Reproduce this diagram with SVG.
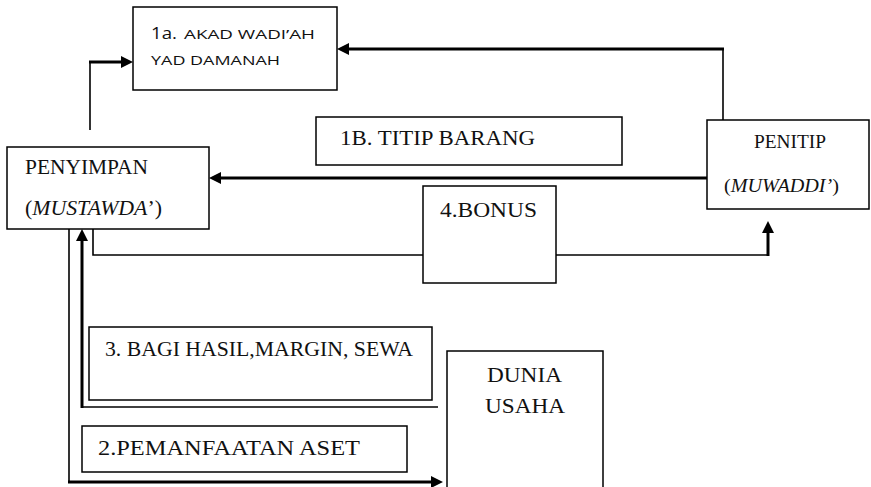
<svg xmlns="http://www.w3.org/2000/svg" width="871" height="487" viewBox="0 0 871 487">
<style>
.box{fill:#fff;stroke:#000;stroke-width:1.5}
.thin{fill:none;stroke:#000;stroke-width:1.6}
.thick{fill:none;stroke:#000;stroke-width:3}
.tr{font-family:"Liberation Serif","Times New Roman",serif;fill:#111}
.sa{font-family:"Open Sans","Liberation Sans",sans-serif;fill:#111}
</style>
<defs>
<marker id="ah" markerUnits="userSpaceOnUse" markerWidth="12" markerHeight="12" refX="6" refY="6" orient="auto">
<path d="M0,0 L12,6 L0,12 z" fill="#000"/>
</marker>
</defs>
<rect width="871" height="487" fill="#fff"/>
<g id="connectors">
<path class="thin" d="M723,120 V49"/>
<path class="thick" d="M724,49 H343" marker-end="url(#ah)"/>
<path class="thin" d="M90,130 V62"/>
<path class="thick" d="M89,62 H127" marker-end="url(#ah)"/>
<path class="thick" d="M707,178 H215" marker-end="url(#ah)"/>
<path class="thin" d="M93,229 V255 H423"/>
<path class="thin" d="M556,255 H768"/>
<path class="thick" d="M768,256 V227" marker-end="url(#ah)"/>
<path class="thin" d="M69,229 V482"/>
<path class="thick" d="M68,482 H437" marker-end="url(#ah)"/>
<path class="thin" d="M438,407 H81"/>
<path class="thick" d="M82,408 V235" marker-end="url(#ah)"/>
</g>
<g id="akad">
<rect class="box" x="133" y="7" width="204" height="83"/>
<text class="sa" x="151" y="39" font-size="17" textLength="26" lengthAdjust="spacingAndGlyphs">1a.</text>
<text class="sa" x="184" y="39" font-size="12" textLength="131" lengthAdjust="spacingAndGlyphs">AKAD WADI’AH</text>
<text class="sa" x="151" y="65" font-size="12" textLength="129" lengthAdjust="spacingAndGlyphs">YAD DAMANAH</text>
</g>
<g id="titip">
<rect class="box" x="316" y="117" width="306" height="48"/>
<text class="tr" x="340" y="145" font-size="22" textLength="195" lengthAdjust="spacingAndGlyphs">1B. TITIP BARANG</text>
</g>
<g id="penyimpan">
<rect class="box" x="7" y="147" width="202" height="82"/>
<text class="tr" x="25" y="174" font-size="20" textLength="123" lengthAdjust="spacingAndGlyphs">PENYIMPAN</text>
<text class="tr" x="25" y="215" font-size="20" textLength="137" lengthAdjust="spacingAndGlyphs">(<tspan font-style="italic">MUSTAWDA</tspan>’)</text>
</g>
<g id="penitip">
<rect class="box" x="707" y="120" width="162" height="89"/>
<text class="tr" x="754" y="148" font-size="19.5" textLength="72" lengthAdjust="spacingAndGlyphs">PENITIP</text>
<text class="tr" x="724" y="192" font-size="19.5" textLength="115" lengthAdjust="spacingAndGlyphs">(<tspan font-style="italic">MUWADDI’</tspan>)</text>
</g>
<g id="bonus">
<rect class="box" x="423" y="186" width="133" height="97"/>
<text class="tr" x="440" y="217" font-size="22" textLength="97" lengthAdjust="spacingAndGlyphs">4.BONUS</text>
</g>
<g id="bagihasil">
<rect class="box" x="89" y="327" width="343" height="73"/>
<text class="tr" x="105" y="356" font-size="21" textLength="308" lengthAdjust="spacingAndGlyphs">3. BAGI HASIL,MARGIN, SEWA</text>
</g>
<g id="pemanfaatan">
<rect class="box" x="82" y="426" width="325" height="46"/>
<text class="tr" x="98" y="455" font-size="22" textLength="262" lengthAdjust="spacingAndGlyphs">2.PEMANFAATAN ASET</text>
</g>
<g id="dunia">
<path class="box" d="M447,490 V351 H603 V490"/>
<text class="tr" x="487" y="382" font-size="22" textLength="75" lengthAdjust="spacingAndGlyphs">DUNIA</text>
<text class="tr" x="485" y="413" font-size="22" textLength="80" lengthAdjust="spacingAndGlyphs">USAHA</text>
</g>
</svg>
